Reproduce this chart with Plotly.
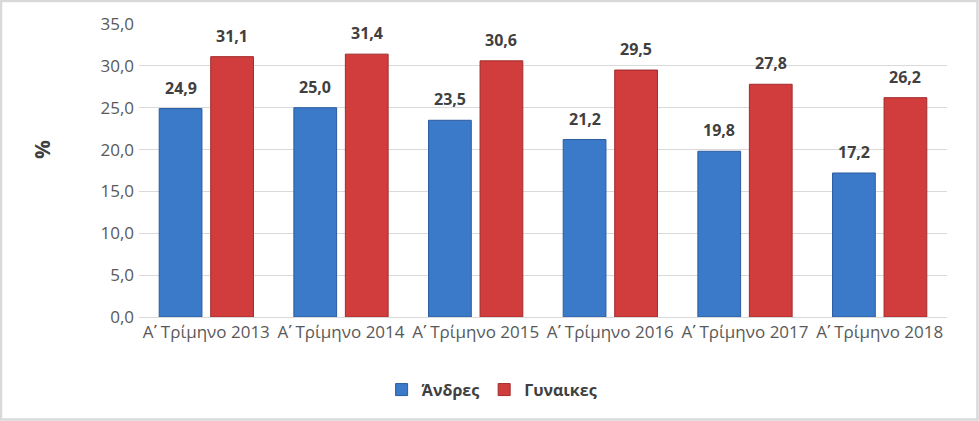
import plotly.graph_objects as go

# data
categories = ['Α\u0374 Τρίμηνο 2013', 'Α\u0374 Τρίμηνο 2014', 'Α\u0374 Τρίμηνο 2015',
              'Α\u0374 Τρίμηνο 2016', 'Α\u0374 Τρίμηνο 2017', 'Α\u0374 Τρίμηνο 2018']
men = [24.9, 25.0, 23.5, 21.2, 19.8, 17.2]
women = [31.1, 31.4, 30.6, 29.5, 27.8, 26.2]
y_ticks = [0, 5, 10, 15, 20, 25, 30, 35]

W, H = 979, 421
L, R, T, B = 139, 32, 24, 104
font_family = 'Open Sans, Noto Sans, sans-serif'
text_col = '#595959'
label_col = '#404040'
bargap, bargroupgap = 0.235, 0.17

def fmt(v):
    return '{:.1f}'.format(v).replace('.', ',')

fig = go.Figure()
fig.add_trace(go.Bar(
    x=categories, y=men, name='Άνδρες',
    marker=dict(color='#3B79C9', line=dict(color='#2B5C9F', width=1)),
))
fig.add_trace(go.Bar(
    x=categories, y=women, name='Γυναικες',
    marker=dict(color='#D13D3D', line=dict(color='#A22B2B', width=1)),
))

pw = W - L - R
ph = H - T - B
slot = pw / len(categories) * (1 - bargap) / 2

# value labels above the bars
for series, shift in ((men, -slot / 2), (women, slot / 2)):
    for cat, v in zip(categories, series):
        fig.add_annotation(x=cat, y=v, xref='x', yref='y', text='<b>' + fmt(v) + '</b>',
                           showarrow=False, xshift=shift, yshift=8, yanchor='bottom',
                           font=dict(size=16, color=label_col, family=font_family))

# y axis title
fig.add_annotation(x=(42 - L) / pw, y=(T + ph - 150) / ph, xref='paper', yref='paper',
                   text='<b>%</b>', textangle=-90, showarrow=False,
                   xanchor='center', yanchor='middle',
                   font=dict(size=21, color=label_col, family=font_family))

# outer chart border, in paper coords
fig.add_shape(type='rect', xref='paper', yref='paper',
              x0=(1 - L) / pw, x1=(W - 1.5 - L) / pw,
              y0=-(B - 1.5) / ph, y1=1 + (T - 1) / ph,
              line=dict(color='#D9D9D9', width=2.5))

fig.update_layout(
    width=W, height=H,
    margin=dict(l=L, r=R, t=T, b=B, autoexpand=False),
    paper_bgcolor='white', plot_bgcolor='white',
    barmode='group', bargap=bargap, bargroupgap=bargroupgap,
    separators=',.',
    font=dict(family=font_family, color=text_col, size=17),
    showlegend=True,
    legend=dict(orientation='h', x=0.437, xanchor='center', y=-0.19, yanchor='top',
                font=dict(size=16, color=label_col, family=font_family, weight='bold'),
                itemwidth=30, traceorder='normal'),
)
fig.update_yaxes(range=[0, 35], tickvals=y_ticks, tickformat='.1f', automargin=False,
                 showgrid=True, gridcolor='#D9D9D9', gridwidth=1,
                 zeroline=False, showline=False, ticks='', ticklabelstandoff=4,
                 tickfont=dict(size=17, color=text_col))
fig.update_xaxes(showline=True, linecolor='#D9D9D9', linewidth=1, ticks='', automargin=False,
                 tickfont=dict(size=17, color=text_col))

# drop the default page margin so the chart sits at the window corner
fig.write_html("out.html", config={'displayModeBar': False},
               post_script="document.body.style.margin='0';")
